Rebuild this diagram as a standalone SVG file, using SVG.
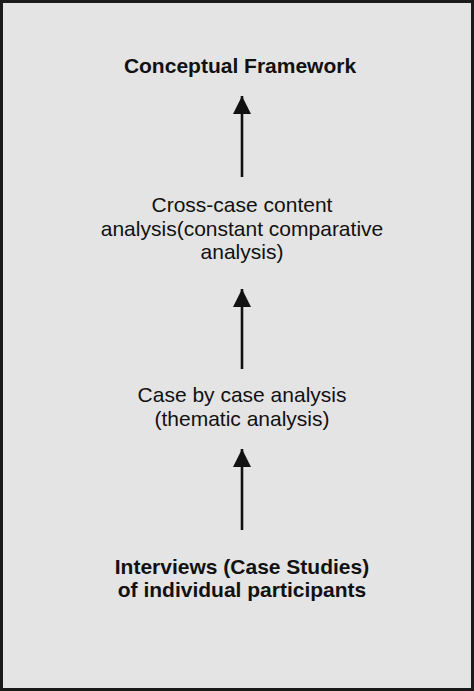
<svg xmlns="http://www.w3.org/2000/svg" width="474" height="691" viewBox="0 0 474 691">
<defs>
<style>
text{font-family:"Liberation Sans",Arial,sans-serif;font-size:21px;fill:#111;text-anchor:middle}
.b{font-weight:bold}
.c{stroke:#111;stroke-width:2.6;fill:none}
</style>
<marker id="ah" markerUnits="userSpaceOnUse" markerWidth="20" markerHeight="20" viewBox="0 0 20 20" refX="18" refY="10" orient="auto">
<path d="M0,1 L18,10 L0,19 Z" fill="#111"/>
</marker>
</defs>
<rect x="1.5" y="1.5" width="471" height="688" fill="#e4e4e4" stroke="#1a1a1a" stroke-width="3"/>
<g id="n1"><text class="b" x="240" y="73">Conceptual Framework</text></g>
<g id="n2"><text x="242" y="212">Cross-case content</text><text x="242" y="236">analysis(constant comparative</text><text x="242" y="259">analysis)</text></g>
<g id="n3"><text x="242" y="402">Case by case analysis</text><text x="242" y="426">(thematic analysis)</text></g>
<g id="n4"><text class="b" x="242" y="574">Interviews (Case Studies)</text><text class="b" x="242" y="597">of individual participants</text></g>
<g id="connectors">
<line class="c" x1="242" y1="177" x2="242" y2="96" marker-end="url(#ah)"/>
<line class="c" x1="242" y1="369" x2="242" y2="289" marker-end="url(#ah)"/>
<line class="c" x1="242" y1="530" x2="242" y2="449" marker-end="url(#ah)"/>
</g>
</svg>
